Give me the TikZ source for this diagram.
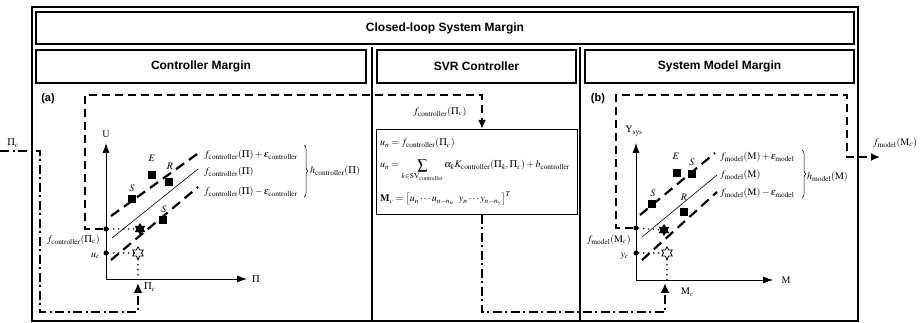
\documentclass[tikz,border=0pt]{standalone}
\usepackage{mathptmx}
\usepackage{fontspec}
\setmainfont{Liberation Serif}
\setsansfont{Liberation Sans}
\usetikzlibrary{arrows.meta,shapes.geometric,decorations.pathreplacing}

% function names used in both margins
\newcommand{\fctrl}{f_{\mathrm{controller}}}
\newcommand{\ectrl}{\varepsilon_{\mathrm{controller}}}
\newcommand{\fmdl}{f_{\mathrm{model}}}
\newcommand{\emdl}{\varepsilon_{\mathrm{model}}}

\begin{document}
\begin{tikzpicture}[x=1pt,y=-1pt,
  frame/.style={draw=black, line width=1.6pt},
  head/.style={frame, minimum height=32pt, inner sep=0pt, font=\fontsize{12}{14}\selectfont\sffamily\bfseries},
  axis/.style={line width=0.8pt, -{Latex[length=10pt,width=7pt]}},
  fback/.style={line width=2pt, dash pattern=on 8pt off 5pt, -{Latex[length=9pt,width=8pt]}},
  ddot/.style={line width=2.6pt, dash pattern=on 9pt off 3.5pt on 2pt off 3.5pt, -{Latex[length=10pt,width=9pt]}},
  band/.style={line width=2.2pt, dash pattern=on 10pt off 6pt},
  mid/.style={line width=0.6pt},
  dots/.style={line width=1.6pt, line cap=round, dash pattern=on 0pt off 5pt},
  blob/.style={circle, fill=black, inner sep=0pt, minimum size=5pt},
  sq/.style={fill=black, inner sep=0pt, minimum size=8pt},
  fstar/.style={star, star points=6, star point ratio=1.7, fill=black, inner sep=0pt, minimum size=12pt},
  ostar/.style={fstar, fill=white, draw=black, line width=0.8pt},
  lab/.style={inner sep=1pt, font=\normalsize},
  tag/.style={font=\fontsize{11}{13}\selectfont\sffamily\bfseries},
  ]
\useasboundingbox (0,0) rectangle (922,323);

% frames and headings
\draw[frame] (32,7) rectangle (858,321);
\node[head, minimum width=818pt] (clm) at (445,28) {Closed-loop System Margin};
\node[head, minimum width=330pt, minimum height=33pt] (ctm) at (201,66.5) {Controller Margin};
\node[head, minimum width=199pt, minimum height=33pt] (svm) at (476.5,66.5) {SVR Controller};
\node[head, minimum width=269pt, minimum height=33pt] (smm) at (719.5,66.5) {System Model Margin};
\draw[frame] (372,47) -- (372,321);
\draw[frame] (580,47) -- (580,321);

%%% (a) controller margin
\node[tag] (tagA) at (48,99) {(a)};
\coordinate (oA) at (106,279);
\draw[axis] (oA) -- (106,143);
\draw[axis] (oA) -- (247,279);
\node[lab] (uA) at (106,134) {U};
\node[lab] (piA) at (256,279) {$\Pi$};

\draw[band] (111,216) -- (200,152);
\draw[mid] (112,238) -- (198,169);
\draw[band] (111,260) -- (198,187);
\node[lab, anchor=west] (lA1) at (203,155) {$\fctrl(\Pi)+\ectrl$};
\node[lab, anchor=west] (lA2) at (203,172) {$\fctrl(\Pi)$};
\node[lab, anchor=west] (lA3) at (203,192) {$\fctrl(\Pi)-\ectrl$};
\draw[decorate, decoration={brace, amplitude=4pt}, line width=0.5pt] (304,145) -- (304,197);
\node[lab, anchor=west] (hA) at (309,171) {$h_{\mathrm{controller}}(\Pi)$};

\node[sq] (eA) at (152,175) {};
\node[sq] (rA) at (169,182) {};
\node[sq] (s1A) at (132,199) {};
\node[sq] (s2A) at (163,220) {};
\node[lab] (eAl) at (152,158) {$E$};
\node[lab] (rAl) at (170,166) {$R$};
\node[lab] (s1Al) at (132,188) {$S$};
\node[lab] (s2Al) at (164,209) {$S$};

\node[blob] (fcA) at (106,229) {};
\node[blob] (ucA) at (106,253) {};
\node[lab, anchor=east] (fcAl) at (101,240) {$\fctrl(\Pi_c)$};
\node[lab, anchor=east] (ucAl) at (101,256) {$u_c$};
\node[fstar] (sfA) at (140,229) {};
\node[ostar] (soA) at (138,253) {};
\draw[dots] (fcA) -- (sfA);
\draw[dots] (ucA) -- (soA);
\draw[dots] (soA) -- (soA |- oA);

% input and feedback into the controller
\coordinate (inA) at (0,151);
\node[lab] (pcin) at (13,143) {$\Pi_c$};
\draw[ddot] (inA) -- (40,151) -- (40,312) -- (138,312) -- (138,283);
\node[lab, anchor=west] (pcA) at (143,287) {$\Pi_c$};
\coordinate (cA) at (482,95);
\node[draw, line width=0.8pt, minimum width=201pt, minimum height=85pt, inner sep=0pt] (svr) at (476.5,171.8) {};
\draw[fback] (fcA) -- (85,229) -- (85,95) -- (cA) -- (cA |- svr.north);
\node[lab] (fcS) at (440,112) {$\fctrl(\Pi_c)$};

%%% SVR controller
\node[lab, anchor=base west] (eq1) at (379,146) {$u_n = \fctrl(\Pi_c)$};
\node[lab, anchor=base west] (eq2) at (379,168) {$u_n = \displaystyle\sum_{k\in \mathrm{SV}_{\mathrm{controller}}} \alpha_k K_{\mathrm{controller}}(\Pi_k,\Pi_c)+b_{\mathrm{controller}}$};
\node[lab, anchor=base west] (eq3) at (379,202) {$\mathbf{M}_c = \left[u_n\cdots u_{n-n_u}\ \ y_n\cdots y_{n-n_y}\right]^T$};
\draw[ddot] (svr.south -| cA) -- (482,312) -- (665,312) -- (665,283);

%%% (b) system model margin
\node[tag] (tagB) at (598,99) {(b)};
\coordinate (oB) at (636,280);
\draw[axis] (oB) -- (636,143);
\draw[axis] (oB) -- (773,280);
\node[lab] (yB) at (634,131) {$\mathrm{Y}_{\mathrm{sys}}$};
\node[lab] (mB) at (786,280) {M};
\node[lab, anchor=west] (mcB) at (680,292) {$\mathrm{M}_c$};

\draw[band] (640,215) -- (715,153);
\draw[mid] (642,237) -- (717,175);
\draw[band] (642,260) -- (717,192);
\node[lab, anchor=west] (lB1) at (719,157) {$\fmdl(\mathrm{M})+\emdl$};
\node[lab, anchor=west] (lB2) at (719,175) {$\fmdl(\mathrm{M})$};
\node[lab, anchor=west] (lB3) at (719,193) {$\fmdl(\mathrm{M})-\emdl$};
\draw[decorate, decoration={brace, amplitude=4pt}, line width=0.5pt] (802,150) -- (802,198);
\node[lab, anchor=west] (hB) at (806,177) {$h_{\mathrm{model}}(\mathrm{M})$};

\node[sq] (eB) at (677,173) {};
\node[sq] (s1B) at (692,174) {};
\node[sq] (s2B) at (652,204) {};
\node[sq] (rB) at (684,212) {};
\node[lab] (eBl) at (676,156) {$E$};
\node[lab] (s1Bl) at (692,162) {$S$};
\node[lab] (s2Bl) at (653,193) {$S$};
\node[lab] (rBl) at (684,197) {$R$};

\node[blob] (fcB) at (636,228) {};
\node[blob] (ycB) at (636,253) {};
\node[lab, anchor=east] (fcBl) at (632,240) {$\fmdl(\mathrm{M}_c)$};
\node[lab, anchor=east] (ycBl) at (630,256) {$y_c$};
\node[fstar] (sfB) at (664,230) {};
\node[ostar] (soB) at (667,253) {};
\draw[dots] (fcB) -- (sfB);
\draw[dots] (ycB) -- (soB);
\draw[dots] (soB) -- (soB |- oB);

% model output
\draw[fback] (fcB) -- (616,228) -- (616,95) -- (847,95) -- (847,157) -- (880,157);
\node[lab] (fmout) at (895,143) {$\fmdl(\mathrm{M}_c)$};
\end{tikzpicture}
\end{document}
